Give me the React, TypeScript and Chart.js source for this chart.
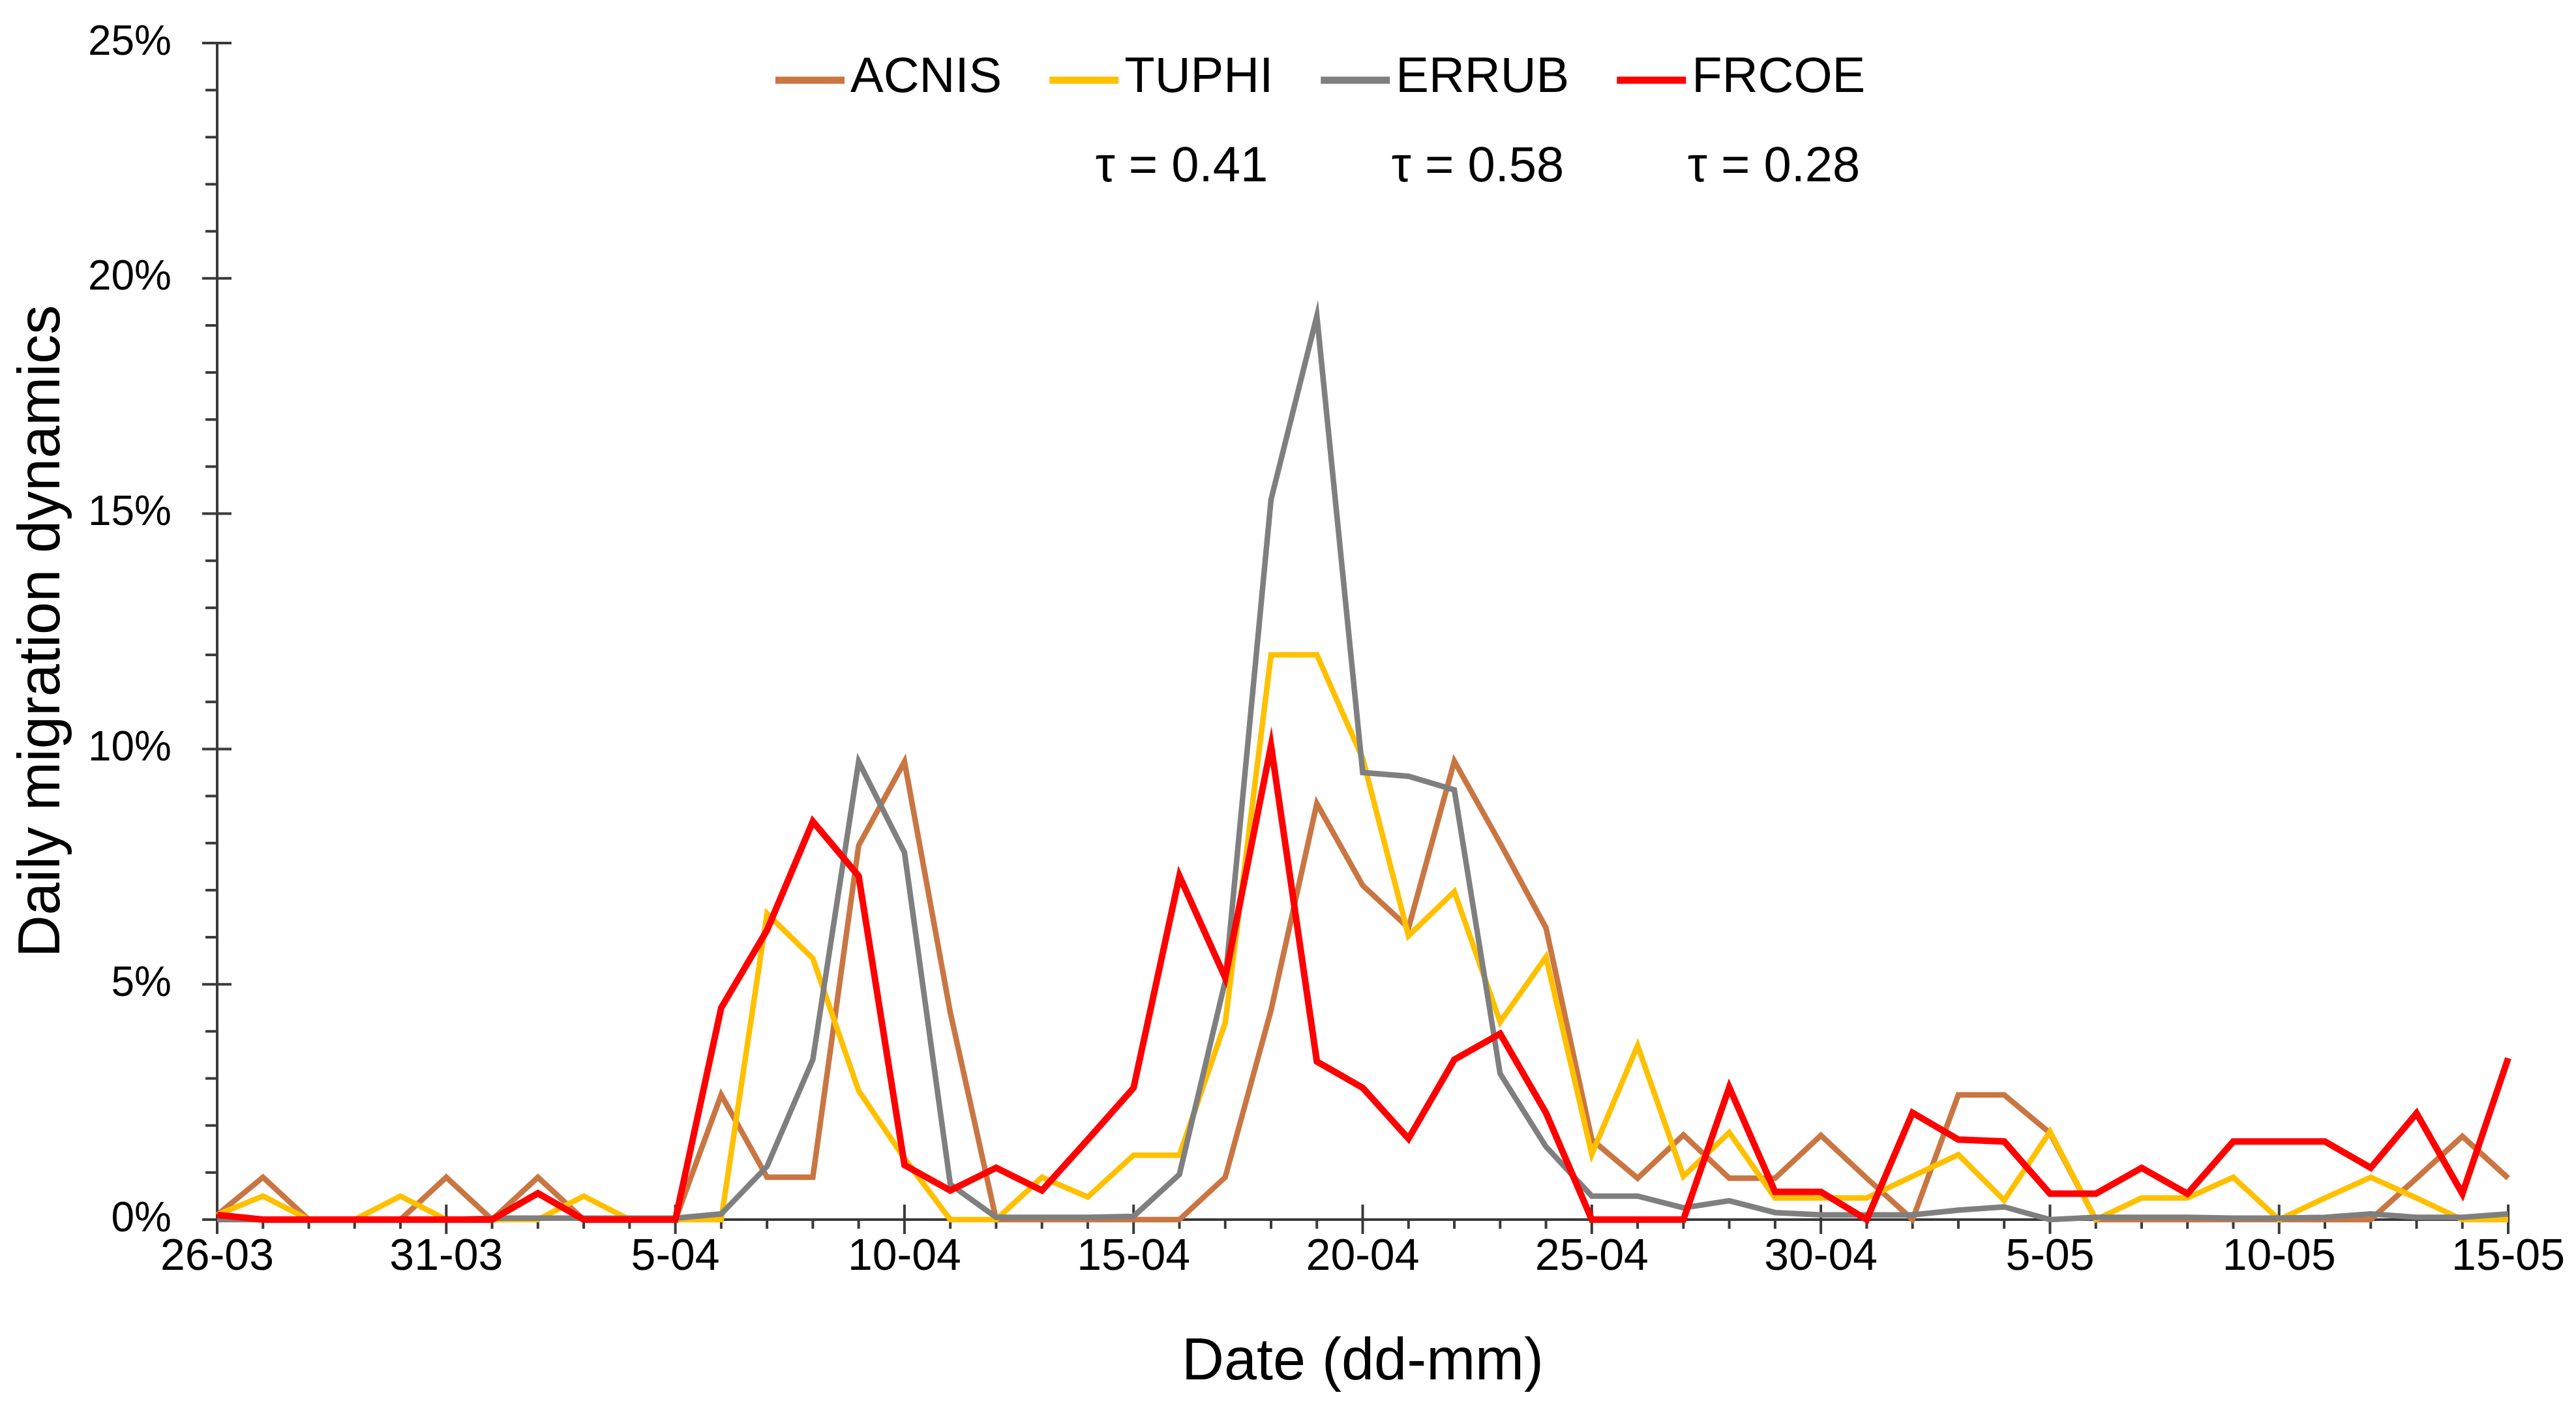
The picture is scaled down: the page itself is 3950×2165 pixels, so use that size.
import { useEffect, useRef } from "react";
import { Chart, registerables } from "chart.js";

Chart.register(...registerables);

const dates = [
  "26-03", "27-03", "28-03", "29-03", "30-03", "31-03",
  "1-04", "2-04", "3-04", "4-04", "5-04", "6-04", "7-04", "8-04", "9-04", "10-04",
  "11-04", "12-04", "13-04", "14-04", "15-04", "16-04", "17-04", "18-04", "19-04", "20-04",
  "21-04", "22-04", "23-04", "24-04", "25-04", "26-04", "27-04", "28-04", "29-04", "30-04",
  "1-05", "2-05", "3-05", "4-05", "5-05", "6-05", "7-05", "8-05", "9-05", "10-05",
  "11-05", "12-05", "13-05", "14-05", "15-05",
];

const shownDates = ["26-03", "31-03", "5-04", "10-04", "15-04", "20-04", "25-04", "30-04", "5-05", "10-05", "15-05"];
const yMajorTicks = [0, 5, 10, 15, 20, 25];

// daily share of migrants, in %
const acnis = [
  0.1, 0.9, 0, 0, 0, 0.9, 0, 0.9, 0, 0,
  0, 2.65, 0.9, 0.9, 7.95, 9.73, 4.4, 0, 0, 0,
  0, 0, 0.9, 4.45, 8.84, 7.1, 6.2, 9.74, 8.0, 6.2,
  1.7, 0.88, 1.8, 0.88, 0.88, 1.79, 0.88, 0, 2.65, 2.65,
  1.84, 0, 0, 0, 0, 0, 0, 0, 0.88, 1.77,
  0.88,
];
const tuphi = [
  0.1, 0.5, 0, 0, 0.5, 0, 0, 0, 0.5, 0,
  0, 0, 6.5, 5.55, 2.74, 1.3, 0, 0, 0.9, 0.48,
  1.37, 1.37, 4.18, 12.0, 12.0, 9.8, 6.03, 6.97, 4.2, 5.58,
  1.39, 3.7, 0.92, 1.85, 0.46, 0.46, 0.46, 0.92, 1.38, 0.41,
  1.87, 0, 0.46, 0.46, 0.9, 0, 0.46, 0.9, 0.46, 0,
  0,
];
const errub = [
  0, 0, 0, 0, 0, 0, 0.03, 0.03, 0.03, 0.03,
  0.03, 0.12, 1.13, 3.4, 9.73, 7.8, 0.75, 0.05, 0.05, 0.05,
  0.07, 0.96, 5.07, 15.3, 19.2, 9.5, 9.42, 9.13, 3.1, 1.55,
  0.5, 0.5, 0.25, 0.4, 0.15, 0.1, 0.1, 0.1, 0.2, 0.27,
  0, 0.05, 0.05, 0.05, 0.03, 0.03, 0.05, 0.12, 0.05, 0.05,
  0.12,
];
const frcoe = [
  0.1, 0, 0, 0, 0, 0, 0, 0.56, 0, 0,
  0, 4.5, 6.15, 8.46, 7.3, 1.16, 0.62, 1.1, 0.62, 1.7,
  2.8, 7.3, 5.14, 10.07, 3.36, 2.8, 1.72, 3.4, 3.95, 2.27,
  0, 0, 0, 2.81, 0.59, 0.59, 0, 2.27, 1.7, 1.66,
  0.55, 0.55, 1.1, 0.55, 1.66, 1.66, 1.66, 1.1, 2.26, 0.55,
  3.43,
];

const seriesNames = ["ACNIS", "TUPHI", "ERRUB", "FRCOE"];
const tauValues = [null, 0.41, 0.58, 0.28];

const FONT = "'Liberation Sans', Arial, sans-serif";
const AXIS = "#3a3a3a";

const axisTicks = {
  id: "axisTicks",
  beforeDatasetsDraw(chart: any) {
    const { ctx, chartArea, scales } = chart;
    const xs = scales.x;
    const ys = scales.y;
    ctx.save();
    ctx.strokeStyle = AXIS;
    ctx.lineWidth = 4;
    ys.ticks.forEach((t: any) => {
      const py = ys.getPixelForValue(t.value);
      const major = yMajorTicks.includes(t.value);
      ctx.beginPath();
      ctx.moveTo(chartArea.left - (major ? 23 : 18), py);
      ctx.lineTo(chartArea.left + (major ? 22 : 0), py);
      ctx.stroke();
    });
    xs.ticks.forEach((t: any, i: number) => {
      const px = xs.getPixelForTick(i);
      const major = shownDates.includes(dates[t.value]);
      ctx.beginPath();
      ctx.moveTo(px, chartArea.bottom - (major ? 23 : 0));
      ctx.lineTo(px, chartArea.bottom + (major ? 22 : 14));
      ctx.stroke();
    });
    ctx.restore();
  },
};

const topLegend = {
  id: "topLegend",
  afterDraw(chart: any) {
    const { ctx } = chart;
    ctx.save();
    ctx.font = `76px ${FONT}`;
    ctx.textBaseline = "middle";
    ctx.fillStyle = "#000";
    let x = 1189;
    chart.data.datasets.forEach((ds: any, i: number) => {
      ctx.strokeStyle = ds.borderColor;
      ctx.lineWidth = 11;
      ctx.beginPath();
      ctx.moveTo(x, 123);
      ctx.lineTo(x + 106, 123);
      ctx.stroke();
      x += 115;
      ctx.textAlign = "left";
      ctx.fillText(ds.label, x, 120);
      const end = x + ctx.measureText(ds.label).width;
      const tau = tauValues[i];
      if (tau !== null) {
        ctx.textAlign = "right";
        ctx.fillText(`τ = ${tau.toFixed(2)}`, end - 8, 257);
      }
      x = end + 73;
    });
    ctx.restore();
  },
};

export default function App() {
  const canvasRef = useRef<HTMLCanvasElement>(null);
  const chartRef = useRef<Chart | null>(null);

  useEffect(() => {
    if (!canvasRef.current) return;
    if (chartRef.current) chartRef.current.destroy();

    const colors = ["#C97643", "#FFC000", "#7F7F7F", "#FF0000"];
    const values = [acnis, tuphi, errub, frcoe];
    const widths = [8.5, 8.5, 8.5, 10];

    chartRef.current = new Chart(canvasRef.current, {
      type: "line",
      data: {
        labels: dates,
        datasets: seriesNames.map((name, i) => ({
          label: name,
          data: values[i],
          borderColor: colors[i],
          backgroundColor: colors[i],
          borderWidth: widths[i],
          pointRadius: 0,
          tension: 0,
          clip: false as any,
          order: 3 - i,
        })),
      },
      options: {
        animation: false,
        responsive: false,
        maintainAspectRatio: false,
        devicePixelRatio: 1,
        layout: { padding: { top: 66, right: 83, left: 0, bottom: 0 } },
        plugins: {
          legend: { display: false },
          tooltip: { enabled: false },
        },
        scales: {
          x: {
            type: "category",
            offset: false,
            afterFit: (s: any) => {
              s.height = 295;
            },
            grid: { display: true, drawOnChartArea: false, drawTicks: false },
            border: { display: true, color: AXIS, width: 4 },
            ticks: {
              autoSkip: false,
              maxRotation: 0,
              padding: 17,
              color: "#000",
              font: { family: FONT, size: 68 },
              callback: (_v: any, i: number) => (shownDates.includes(dates[i]) ? dates[i] : ""),
            },
            title: {
              display: true,
              text: "Date (dd-mm)",
              color: "#000",
              font: { family: FONT, size: 90 },
              padding: { top: 0, bottom: 21 },
            },
          },
          y: {
            min: 0,
            max: 25,
            afterFit: (s: any) => {
              s.width = 333;
              s.paddingTop = 0;
              s.paddingBottom = 0;
            },
            grid: { display: true, drawOnChartArea: false, drawTicks: false },
            border: { display: true, color: AXIS, width: 4 },
            ticks: {
              stepSize: 1,
              autoSkip: false,
              padding: 70,
              color: "#000",
              font: { family: FONT, size: 64 },
              callback: (v: any) => (yMajorTicks.includes(Number(v)) ? `${v}%` : ""),
            },
            title: {
              display: true,
              text: "Daily migration dynamics",
              color: "#000",
              font: { family: FONT, size: 90 },
              padding: { top: 12, bottom: 0 },
            },
          },
        },
      },
      plugins: [axisTicks, topLegend],
    });

    return () => {
      if (chartRef.current) {
        chartRef.current.destroy();
        chartRef.current = null;
      }
    };
  }, []);

  return (
    <div style={{ position: "fixed", left: 0, top: 0, width: 3950, height: 2165, background: "#fff" }}>
      <canvas ref={canvasRef} width={3950} height={2165} style={{ width: 3950, height: 2165 }} />
    </div>
  );
}
